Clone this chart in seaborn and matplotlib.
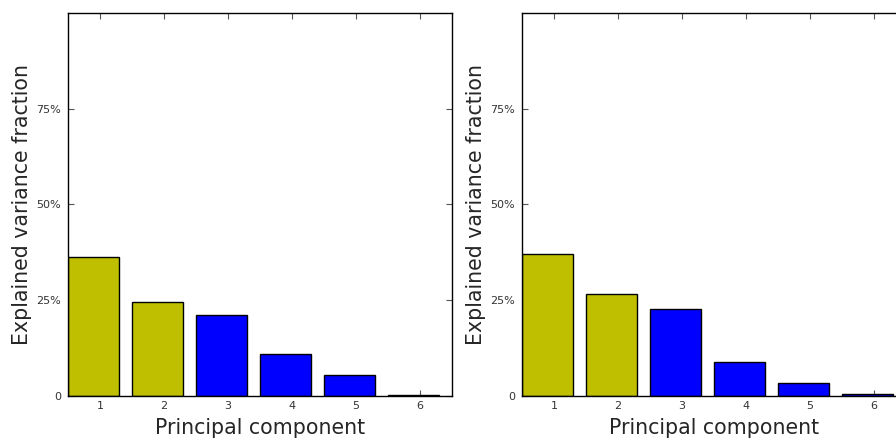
import matplotlib
matplotlib.use("Agg")
import matplotlib.pyplot as plt
import seaborn as sns
import pandas as pd

# Explained variance per principal component
components = ["1", "2", "3", "4", "5", "6"]
left_values = [0.362, 0.245, 0.212, 0.110, 0.053, 0.003]
right_values = [0.370, 0.266, 0.227, 0.089, 0.032, 0.004]
bar_colors = ["#bfbf00", "#bfbf00", "#0000ff", "#0000ff", "#0000ff", "#0000ff"]
ytick_vals = [0, 0.25, 0.5, 0.75]
ytick_labels = ["0", "25%", "50%", "75%"]

sns.set_style("ticks")
plt.rcParams["font.family"] = ["DejaVu Sans"]

fig = plt.figure(figsize=(8.96, 4.41), dpi=100)
W, H = 896, 441
axes = [
    fig.add_axes([68 / W, 45.3 / H, 383.5 / W, 382.5 / H]),
    fig.add_axes([522 / W, 45.3 / H, 383.5 / W, 382.5 / H]),
]

for ax, vals in zip(axes, [left_values, right_values]):
    df = pd.DataFrame({"component": components, "fraction": vals})
    sns.barplot(
        data=df, x="component", y="fraction", hue="component",
        palette=bar_colors, legend=False, width=0.8,
        edgecolor="black", linewidth=1, saturation=1, ax=ax,
    )
    ax.set_xlim(-0.4, 5.6)
    ax.set_xticks([i + 0.1 for i in range(len(components))])
    ax.set_xticklabels(components)
    ax.set_ylim(0, 1)
    ax.set_yticks(ytick_vals)
    ax.set_yticklabels(ytick_labels)
    ax.tick_params(direction="in", top=True, right=True, length=4,
                   labelsize=8, labelcolor="#333333", color="#555555")
    ax.tick_params(axis="y", pad=5)
    for s in ax.spines.values():
        s.set_visible(True)
        s.set_linewidth(1)
        s.set_color("black")
    ax.set_xlabel("Principal component", fontsize=14.8, labelpad=5)
    ax.set_ylabel("Explained variance fraction", fontsize=14.8, labelpad=3)

fig.savefig("out.png", dpi=100)
